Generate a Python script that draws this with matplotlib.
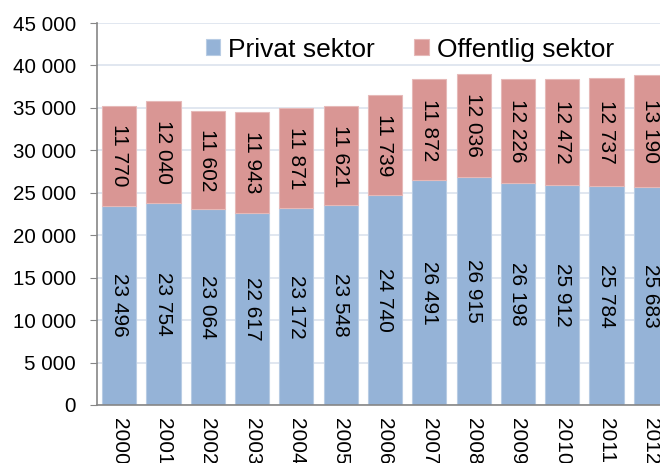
import numpy as np
import matplotlib.pyplot as plt

# --- data ---
years = ["2000", "2001", "2002", "2003", "2004", "2005", "2006",
         "2007", "2008", "2009", "2010", "2011", "2012"]
privat = [23496, 23754, 23064, 22617, 23172, 23548, 24740,
          26491, 26915, 26198, 25912, 25784, 25683]
offentlig = [11770, 12040, 11602, 11943, 11871, 11621, 11739,
             11872, 12036, 12226, 12472, 12737, 13190]

plt.rcParams["font.family"] = ["Liberation Sans", "DejaVu Sans"]

fig = plt.figure(figsize=(6.6, 4.63), dpi=100)
# axes deliberately runs past the right edge (last bar is cut like the original)
ax = fig.add_axes([97 / 660, 58 / 463, 576 / 660, 382 / 463])

x = np.arange(len(years))
c_priv, c_off = "#95B3D7", "#D99694"
ax.bar(x, privat, width=0.77, color=c_priv, edgecolor="#B8CCE4",
       linewidth=0.8, label="Privat sektor", zorder=2)
ax.bar(x, offentlig, width=0.77, bottom=privat, color=c_off,
       edgecolor="#E6B9B8", linewidth=0.8, label="Offentlig sektor", zorder=2)


def fmt(v):
    return f"{v:,}".replace(",", " ")


for i in range(len(years)):
    ax.text(x[i], privat[i] / 2, fmt(privat[i]), rotation=270,
            ha="center", va="center", fontsize=15, zorder=3)
    ax.text(x[i], privat[i] + offentlig[i] / 2, fmt(offentlig[i]), rotation=270,
            ha="center", va="center", fontsize=15, zorder=3)

ax.set_ylim(0, 45000)
ax.set_xlim(-0.5, len(years) - 0.5)
ax.set_yticks(np.arange(0, 45001, 5000))
ax.set_yticklabels([fmt(v) for v in range(0, 45001, 5000)], fontsize=14.8)
ax.set_xticks(x)
ax.set_xticklabels(years, rotation=270, fontsize=15, va="top", ha="center")
ax.tick_params(axis="x", length=0, pad=9)
ax.tick_params(axis="y", length=5, color="#868686", pad=10)
ax.yaxis.grid(True, color="#DCE3EE", linewidth=1.2, zorder=0)
ax.set_axisbelow(True)
for s in ["top", "right"]:
    ax.spines[s].set_visible(False)
for s in ["left", "bottom"]:
    ax.spines[s].set_color("#868686")
    ax.spines[s].set_linewidth(1.2)

ax.legend(loc="center left", bbox_to_anchor=(0.161, 0.93), ncol=2,
          fontsize=19, frameon=True, facecolor="white", edgecolor="none",
          framealpha=1, handlelength=0.55, handleheight=0.55,
          handletextpad=0.3, columnspacing=1.5, borderpad=0.1)

fig.savefig("out.png", dpi=100)
